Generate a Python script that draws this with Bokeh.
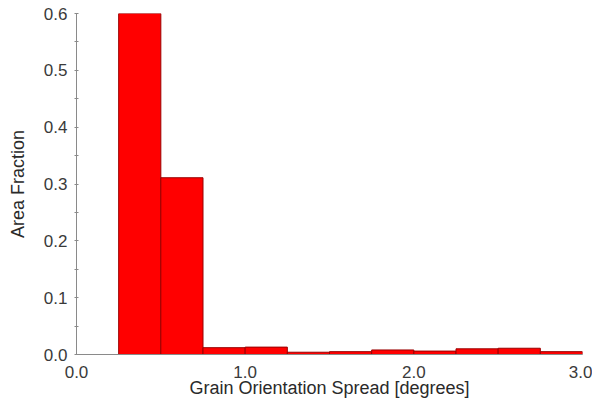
from bokeh.plotting import figure
from bokeh.models import FixedTicker, NumeralTickFormatter, Range1d, ColumnDataSource
from bokeh.embed import file_html
from bokeh.resources import INLINE

# Data: histogram of grain orientation spread
bin_left = [0.25, 0.50, 0.75, 1.00, 1.25, 1.50, 1.75, 2.00, 2.25, 2.50, 2.75]
bin_right = [0.50, 0.75, 1.00, 1.25, 1.50, 1.75, 2.00, 2.25, 2.50, 2.75, 3.00]
area_fraction = [0.600, 0.311, 0.012, 0.013, 0.004, 0.005, 0.008, 0.006, 0.010, 0.011, 0.005]
x_ticks = [0.0, 1.0, 2.0, 3.0]
y_ticks = [0.0, 0.1, 0.2, 0.3, 0.4, 0.5, 0.6]
y_minor_ticks = [0.05, 0.15, 0.25, 0.35, 0.45, 0.55]

src = ColumnDataSource(dict(left=bin_left, right=bin_right,
                            top=area_fraction, bottom=[0.0] * len(area_fraction)))

p = figure(width=592, height=412, output_backend="svg", toolbar_location=None,
           x_range=Range1d(0, 3.0), y_range=Range1d(0, 0.6),
           min_border_left=76, min_border_top=13, min_border_right=10, min_border_bottom=58)

p.quad(left="left", right="right", top="top", bottom="bottom", source=src,
       fill_color="#ff0000", line_color="#9a0000", line_width=1)

p.outline_line_color = None
p.xgrid.grid_line_color = None
p.ygrid.grid_line_color = None

font = "Liberation Sans"
for ax in (p.xaxis[0], p.yaxis[0]):
    ax.axis_line_color = "#8a8a8a"
    ax.major_label_text_font = font
    ax.major_label_text_font_size = "17px"
    ax.major_label_text_color = "#3a3a3a"
    ax.axis_label_text_font = font
    ax.axis_label_text_font_size = "18px"
    ax.axis_label_text_font_style = "normal"
    ax.axis_label_text_color = "#2a2a2a"
    ax.major_tick_line_color = "#8a8a8a"
    ax.minor_tick_line_color = "#8a8a8a"

p.xaxis.ticker = FixedTicker(ticks=x_ticks)
p.xaxis.formatter = NumeralTickFormatter(format="0.0")
p.xaxis.major_tick_line_color = None
p.xaxis.minor_tick_line_color = None
p.xaxis.major_label_standoff = 5
p.xaxis.axis_label = "Grain Orientation Spread [degrees]"
p.xaxis.axis_label_standoff = -3

p.yaxis.ticker = FixedTicker(ticks=y_ticks, minor_ticks=y_minor_ticks)
p.yaxis.formatter = NumeralTickFormatter(format="0.0")
p.yaxis.major_tick_in = 2
p.yaxis.major_tick_out = 2
p.yaxis.minor_tick_in = 2
p.yaxis.minor_tick_out = 2
p.yaxis.major_label_standoff = 7
p.yaxis.axis_label = "Area Fraction"
p.yaxis.axis_label_standoff = 13

open("out.html", "w").write(file_html(p, INLINE))
